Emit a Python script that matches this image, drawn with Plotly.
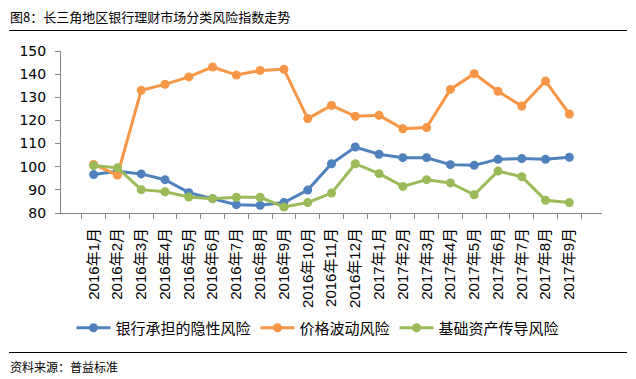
import plotly.graph_objects as go

months = ["2016年1月","2016年2月","2016年3月","2016年4月","2016年5月","2016年6月",
          "2016年7月","2016年8月","2016年9月","2016年10月","2016年11月","2016年12月",
          "2017年1月","2017年2月","2017年3月","2017年4月","2017年5月","2017年6月",
          "2017年7月","2017年8月","2017年9月"]
bank_risk = [96.6, 98.0, 96.9, 94.4, 88.8, 86.2, 83.6, 83.3, 84.5, 89.9, 101.3, 108.5,
             105.4, 103.9, 103.9, 100.9, 100.6, 103.2, 103.5, 103.2, 104.1]
price_risk = [101.0, 96.4, 133.0, 135.6, 138.8, 143.1, 139.6, 141.6, 142.1, 120.8, 126.5, 121.8,
              122.2, 116.4, 116.9, 133.4, 140.2, 132.6, 126.2, 137.0, 122.8]
base_risk = [100.5, 99.5, 90.1, 89.2, 86.9, 86.2, 86.8, 86.8, 82.6, 84.5, 88.6, 101.3,
             97.0, 91.5, 94.4, 93.0, 87.9, 98.1, 95.7, 85.5, 84.5]
series_names = ["银行承担的隐性风险", "价格波动风险", "基础资产传导风险"]
colors = ["#4F81BD", "#F79646", "#9BBB59"]
y_ticks = [80, 90, 100, 110, 120, 130, 140, 150]

FONT = "Noto Sans CJK SC"
LAT = "Liberation Sans, Noto Sans CJK SC"
# page body has an 8px margin, so the figure is sized to the visible area
W, H = 628, 371
L, R, T, B = 53, 34, 43, 166
PW, PH = W - L - R, H - T - B  # 541 x 162

def px_x(x):  # screen x -> paper
    return (x - 8 - L) / PW

def px_y(y):  # screen y -> paper
    return 1 - (y - 8 - T) / PH

fig = go.Figure()
for name, vals, c in zip(series_names, [bank_risk, price_risk, base_risk], colors):
    fig.add_trace(go.Scatter(x=months, y=vals, name=name, mode="lines+markers",
                             line=dict(color=c, width=3),
                             marker=dict(color=c, size=9)))

fig.update_layout(
    width=W, height=H,
    margin=dict(l=L, r=R, t=T, b=B, autoexpand=False),
    paper_bgcolor="white", plot_bgcolor="white",
    font=dict(family=FONT, color="#000000"),
    showlegend=True,
    legend=dict(orientation="h", x=px_x(318), xanchor="center", y=px_y(328), yanchor="middle",
                font=dict(size=15, family=FONT, color="#000"), itemwidth=34,
                bgcolor="rgba(0,0,0,0)", traceorder="normal"),
    xaxis=dict(type="category", showline=True, linecolor="#868686", linewidth=1,
               ticks="outside", tickson="boundaries", ticklen=5, tickcolor="#868686",
               tickangle=-90, tickfont=dict(size=15, family=LAT, color="#000"),
               ticklabelstandoff=8,
               showgrid=False, zeroline=False),
    yaxis=dict(range=[80, 150], tickvals=y_ticks, showline=True, linecolor="#868686",
               linewidth=1, ticks="outside", ticklen=5, tickcolor="#868686",
               tickfont=dict(size=14, family="DejaVu Sans", color="#000"),
               ticklabelstandoff=6,
               showgrid=False, zeroline=False),
)

fig.add_annotation(text="图8：长三角地区银行理财市场分类风险指数走势", xref="paper", yref="paper",
                   x=px_x(8), y=px_y(17), xanchor="left", yanchor="middle",
                   showarrow=False, font=dict(size=13, family=FONT, color="#000"))
fig.add_annotation(text="资料来源：普益标准", xref="paper", yref="paper",
                   x=px_x(8), y=px_y(366), xanchor="left", yanchor="middle",
                   showarrow=False, font=dict(size=12, family=FONT, color="#000"))
# horizontal rules under the title and above the source note (thin filled boxes)
for yy in (31, 352):
    fig.add_annotation(text=" ", xref="paper", yref="paper",
                       x=px_x(9), y=px_y(yy), xanchor="left", yanchor="middle",
                       width=618, height=1, borderpad=0, borderwidth=0,
                       bgcolor="#000000", showarrow=False, font=dict(size=1))

fig.write_html("out.html")
